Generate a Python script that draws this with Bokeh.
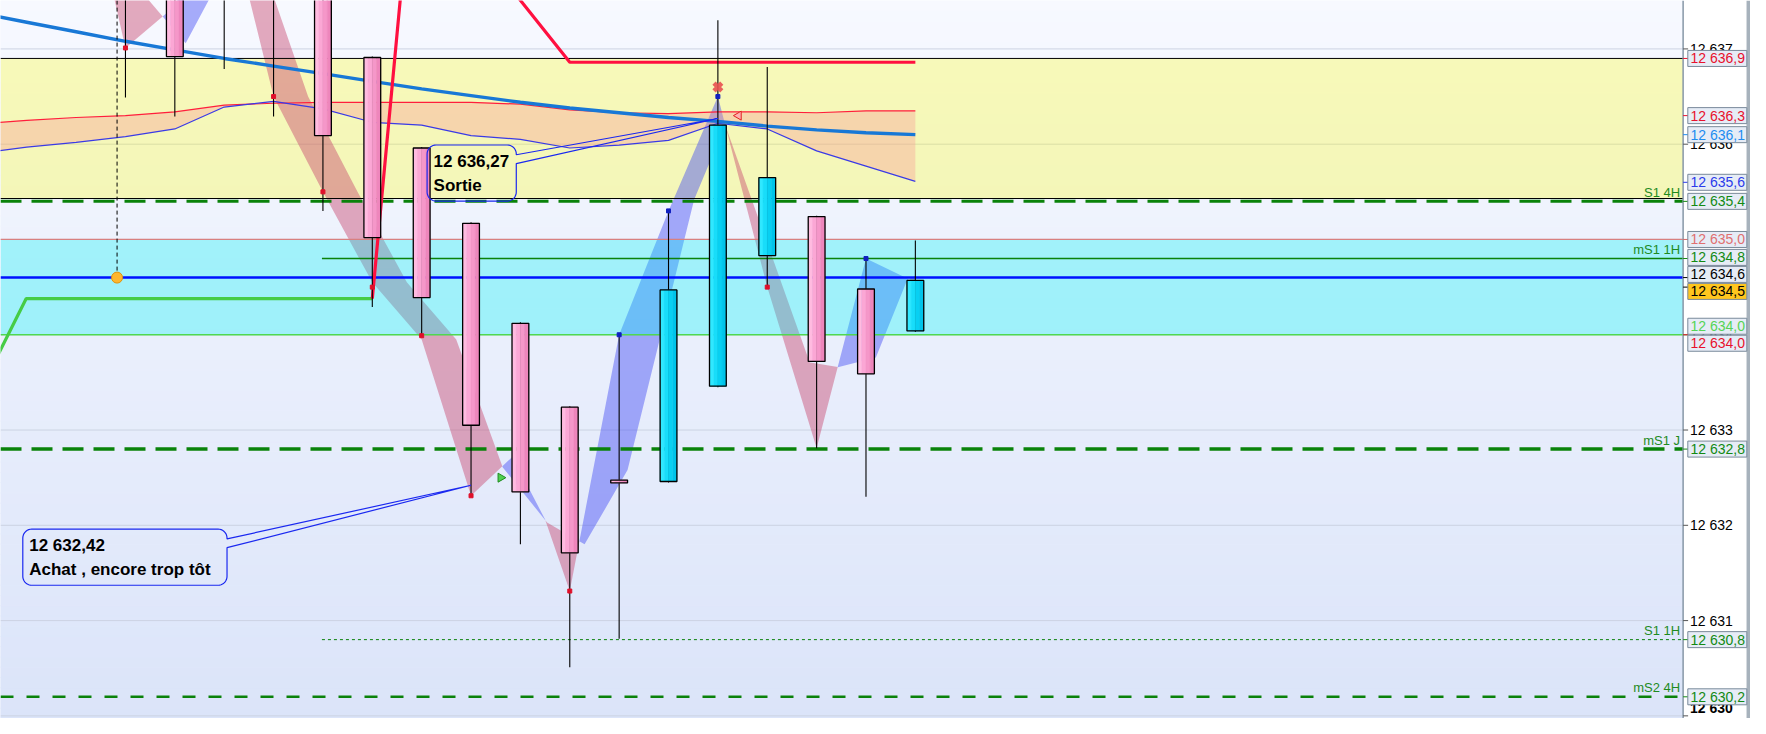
import numpy as np
from bokeh.plotting import figure
from bokeh.models import Range1d, ColumnDataSource
from bokeh.core.properties import value
from bokeh.embed import file_html
from bokeh.resources import INLINE

# ------------------------------------------------------------------ data
bar_index = list(range(17))
open_  = [12638.40, 12638.00, 12638.50, 12638.60, 12637.90, 12636.91, 12635.96, 12635.17, 12634.12,
          12633.24, 12632.475, 12632.46, 12633.46, 12634.83, 12635.24, 12634.48, 12634.04]
high_  = [12638.60, 12638.30, 12638.70, 12638.80, 12638.10, 12636.92, 12635.97, 12635.18, 12634.13,
          12633.25, 12634.00, 12635.30, 12637.30, 12636.81, 12635.25, 12634.80, 12634.99]
low_   = [12636.49, 12636.29, 12636.79, 12636.29, 12635.30, 12634.29, 12633.99, 12632.31, 12631.80,
          12630.51, 12630.81, 12632.45, 12633.45, 12634.50, 12632.81, 12632.30, 12634.03]
close_ = [12637.75, 12636.92, 12637.70, 12637.60, 12636.09, 12635.02, 12634.39, 12633.05, 12632.35,
          12631.71, 12632.445, 12634.47, 12636.20, 12635.65, 12633.72, 12633.59, 12634.57]

ind_index = list(range(-3, 17))
ema_line = [12637.38, 12637.28, 12637.18, 12637.08, 12636.99, 12636.90, 12636.82, 12636.74, 12636.66,
            12636.58, 12636.51, 12636.44, 12636.38, 12636.33, 12636.28, 12636.24, 12636.19, 12636.15,
            12636.12, 12636.10]
env_upper = [12636.21, 12636.25, 12636.28, 12636.30, 12636.34, 12636.41, 12636.43, 12636.44, 12636.44,
             12636.44, 12636.44, 12636.42, 12636.36, 12636.33, 12636.32, 12636.34, 12636.34, 12636.33,
             12636.35, 12636.35]
env_lower = [12635.90, 12635.97, 12636.02, 12636.08, 12636.16, 12636.39, 12636.45, 12636.37, 12636.23,
             12636.20, 12636.09, 12636.05, 12635.96, 12635.99, 12636.04, 12636.22, 12636.16, 12635.93,
             12635.77, 12635.61]

zz_fast_x = [-1, 0, 1, 2, 3, 4, 5, 6, 7, 7.84, 8.5, 9, 10, 11, 12, 13, 14, 15, 16]
zz_fast_y = [12639.30, 12637.01, 12637.45, 12638.60, 12636.50, 12635.50, 12634.55, 12633.95, 12632.31,
             12632.72, 12632.06, 12631.31, 12634.00, 12635.30, 12636.50, 12634.50, 12632.81, 12634.80,
             12634.55]
zz_slow_x = [-1, 1.22, 2.5, 3.7, 4.7, 5.7, 6.7, 7.64, 8.54, 9.3, 10.17, 11.52, 12.15, 13.86, 14.43,
             15.2, 15.83, 16]
zz_slow_y = [12638.40, 12637.06, 12638.30, 12636.50, 12635.50, 12634.55, 12633.95, 12632.61, 12632.03,
             12631.80, 12632.58, 12635.42, 12636.20, 12633.71, 12633.66, 12633.76, 12634.57, 12634.62]

stop_long_x = [-2.6, -2.01, 5.0]
stop_long_y = [12633.77, 12634.38, 12634.38]
stop_short_x = [5.0, 5.7, 7.4, 9.0, 16.0]
stop_short_y = [12634.38, 12638.26, 12637.90, 12636.86, 12636.86]

pivot_down_bar = [0, 3, 4, 5, 6, 7, 9, 13]
pivot_down_val = [12637.01, 12636.50, 12635.50, 12634.50, 12633.99, 12632.31, 12631.31, 12634.50]
pivot_up_bar = [10, 11, 12, 15]
pivot_up_val = [12634.00, 12635.30, 12636.50, 12634.80]

zone_yellow = [12635.43, 12636.90]
zone_cyan = [12634.00, 12635.00]

level_names = ["S1 4H", "mS1 1H", "mS1 J", "S1 1H", "mS2 4H"]
level_values = [12635.40, 12634.80, 12632.80, 12630.80, 12630.20]
level_from_bar = [None, 3.98, None, 3.98, None]

pivot_line = 12634.60
entry_bar, entry_price = -0.17, 12634.60

callout_bar = [7, 12]
callout_price = [12632.42, 12636.27]
callout_note = ["Achat , encore trop tôt", "Sortie"]
buy_arrow = (7.6, 12632.50)
sell_arrow = (12.42, 12636.30)
exit_cross = (12, 12636.60)

axis_ticks = [12630, 12631, 12632, 12633, 12634, 12635, 12636, 12637]
price_tags = [12636.9, 12636.3, 12636.1, 12635.6, 12635.4, 12635.0, 12634.8, 12634.6, 12634.5,
              12634.0, 12634.0, 12632.8, 12630.8, 12630.2]
tag_colors = ["#E8112D", "#E8112D", "#1E8CF0", "#2B3BEA", "#138A13", "#E07070", "#138A13", "#000000",
              "#000000", "#55D455", "#E8112D", "#138A13", "#138A13", "#138A13"]
tag_fills = ["#E6ECF6"] * 8 + ["#FFC61E"] + ["#E6ECF6"] * 5

# ------------------------------------------------------------------ geometry
W, H = 1750, 718
REF_W, REF_H = 1766, 734
BAR0_PX, BAR_PX = 126.1, 49.82
V0, V0_PX, UNIT_PX = 12637.0, 49.5, 97.4


def rx(px):
    return (px - BAR0_PX) / BAR_PX


def ry(py):
    return V0 - (py - V0_PX) / UNIT_PX


X0, X1 = rx(0), rx(REF_W)
Y0, Y1 = ry(REF_H), ry(0)
AXIS_X = rx(1698)
kx = (X1 - X0) / W
ky = (Y1 - Y0) / H
FONT = value("Liberation Sans")


def fmt(v, d):
    return f"{v:,.{d}f}".replace(",", " ").replace(".", ",")


def hexc(c):
    return "#%02X%02X%02X" % tuple(int(round(t)) for t in c)


p = figure(width=W, height=H, x_range=Range1d(X0, X1), y_range=Range1d(Y0, Y1),
           x_axis_type=None, y_axis_type=None, toolbar_location=None, output_backend="svg",
           min_border=0, outline_line_color=None, background_fill_color="white",
           border_fill_color="white")

# background gradient
n = 70
edges = np.linspace(Y0, Y1, n + 1)
top_c, bot_c = np.array([247, 249, 255]), np.array([219, 228, 249])
cols = []
for k in range(n):
    f = (k + 0.5) / n
    cols.append(hexc(bot_c + f * (top_c - bot_c)))
p.quad(left=X0, right=AXIS_X, bottom=edges[:-1], top=edges[1:], fill_color=cols, line_color=cols,
       line_width=1)

# grid
p.segment(x0=[X0] * len(axis_ticks), y0=axis_ticks, x1=[AXIS_X] * len(axis_ticks), y1=axis_ticks,
          line_color="#CCD3E3", line_width=1)

# yellow zone
p.quad(left=X0, right=AXIS_X, bottom=zone_yellow[0], top=zone_yellow[1], fill_color="#FFFF00",
       fill_alpha=0.27, line_color=None)

# zigzag band
xa, ya, xb, yb = map(np.array, (zz_fast_x, zz_fast_y, zz_slow_x, zz_slow_y))
xs = np.union1d(xa, xb)
xs = xs[(xs >= max(xa[0], xb[0])) & (xs <= min(xa[-1], xb[-1]))]
a = np.interp(xs, xa, ya)
b = np.interp(xs, xb, yb)
PX, PA, PB = [xs[0]], [a[0]], [b[0]]
for k in range(1, len(xs)):
    d0, d1 = a[k - 1] - b[k - 1], a[k] - b[k]
    if d0 * d1 < 0:
        t = d0 / (d0 - d1)
        xc = xs[k - 1] + t * (xs[k] - xs[k - 1])
        yc = a[k - 1] + t * (a[k] - a[k - 1])
        PX.append(xc); PA.append(yc); PB.append(yc)
    PX.append(xs[k]); PA.append(a[k]); PB.append(b[k])
segs = []
for k in range(1, len(PX)):
    s = np.sign((PA[k - 1] + PA[k]) - (PB[k - 1] + PB[k]))
    segs.append(s)
poly_x, poly_y, poly_c = [], [], []
k = 0
while k < len(segs):
    j = k
    while j + 1 < len(segs) and segs[j + 1] == segs[k]:
        j += 1
    i0, i1 = k, j + 1
    px_ = list(PX[i0:i1 + 1]) + list(PX[i0:i1 + 1])[::-1]
    py_ = list(PA[i0:i1 + 1]) + list(PB[i0:i1 + 1])[::-1]
    poly_x.append(px_); poly_y.append(py_)
    poly_c.append("#C8466E" if segs[k] < 0 else "#434BF3")
    k = j + 1
p.patches(xs=poly_x, ys=poly_y, fill_color=poly_c, fill_alpha=0.45, line_color=None)

# cyan zone
p.quad(left=X0, right=AXIS_X, bottom=zone_cyan[0], top=zone_cyan[1], fill_color="#00F4F5",
       fill_alpha=0.32, line_color=None)

# envelope band
p.varea(x=ind_index, y1=env_upper, y2=env_lower, fill_color="#FA9696", fill_alpha=0.35)

# zone borders
p.segment(x0=[X0, X0], y0=zone_yellow, x1=[AXIS_X, AXIS_X], y1=zone_yellow, line_color="black",
          line_width=1)
p.segment(x0=[X0], y0=[zone_cyan[1]], x1=[AXIS_X], y1=[zone_cyan[1]], line_color="#D88080", line_width=1.2)
p.segment(x0=[X0], y0=[zone_cyan[0]], x1=[AXIS_X], y1=[zone_cyan[0]], line_color="#50D850", line_width=1.5)

# levels
level_styles = [(3.0, "21 10"), (1.5, None), (3.5, "21 10"), (1.0, "3 3"), (2.5, "13 13")]
for name, v, fb, st in zip(level_names, level_values, level_from_bar, level_styles):
    x_start = X0 if fb is None else fb
    kw = dict(line_color="#0A820A", line_width=st[0])
    if st[1]:
        kw["line_dash"] = st[1]
    p.line([x_start, AXIS_X], [v, v], **kw)
p.text(x=[AXIS_X - 3 * kx] * len(level_names), y=[v + 1.5 * ky for v in level_values], text=level_names,
       text_font=FONT, text_font_size="13px", text_color="#1E8B1E", text_align="right",
       text_baseline="bottom")

# pivot line
p.line([X0, AXIS_X], [pivot_line, pivot_line], line_color="#0010FF", line_width=2.5)

# indicators
p.line(ind_index, env_upper, line_color="#FF1E3C", line_width=1.2)
p.line(ind_index, env_lower, line_color="#3A3AE6", line_width=1.2)
p.line(ind_index, ema_line, line_color="#1878D6", line_width=3.4)
p.line(stop_long_x, stop_long_y, line_color="#46CC46", line_width=3.2)
p.line(stop_short_x, stop_short_y, line_color="#FF1040", line_width=3.2)

# entry marker
p.segment(x0=[entry_bar], y0=[entry_price], x1=[entry_bar], y1=[Y1 + 1], line_color="black",
          line_width=1, line_dash="4 3")
p.scatter([entry_bar], [entry_price], size=11, fill_color="#FFB62E", line_color="#E0920E")

# candles
p.segment(x0=bar_index, y0=low_, x1=bar_index, y1=high_, line_color="black", line_width=1.1)
BW = 0.34
NS = 4
pink_cols = ["#FFBBE0", "#FBA7D5", "#F597C9", "#EE86BC"]
cyan_cols = ["#30E8FF", "#18DDFA", "#08D0F2", "#00C4EA"]
ql, qr, qt, qb, qc = [], [], [], [], []
for i, o, c in zip(bar_index, open_, close_):
    top, bot = max(o, c), min(o, c)
    pal = cyan_cols if c > o else pink_cols
    for s in range(NS):
        l = i - BW / 2 + s * BW / NS
        ql.append(l); qr.append(l + BW / NS); qt.append(top); qb.append(bot); qc.append(pal[s])
p.quad(left=ql, right=qr, top=qt, bottom=qb, fill_color=qc, line_color=qc, line_width=0.5)
p.quad(left=[i - BW / 2 for i in bar_index], right=[i + BW / 2 for i in bar_index],
       top=[max(o, c) for o, c in zip(open_, close_)], bottom=[min(o, c) for o, c in zip(open_, close_)],
       fill_alpha=0, line_color="black", line_width=1.3)

# pivot markers
p.scatter(pivot_down_bar, pivot_down_val, marker="square", size=4, fill_color="#E0102A", line_color="#E0102A")
p.scatter(pivot_up_bar, pivot_up_val, marker="square", size=4, fill_color="#1020C0", line_color="#1020C0")
p.scatter([exit_cross[0]], [exit_cross[1]], marker="x", size=11, line_width=4.5, line_color="#E85050",
          line_alpha=0.9)
p.scatter([buy_arrow[0]], [buy_arrow[1]], marker="triangle", angle=-np.pi / 2, size=9,
          fill_color="#50D050", line_color="#1E8B1E")
p.scatter([sell_arrow[0]], [sell_arrow[1]], marker="triangle", angle=np.pi / 2, size=9,
          fill_color="#FFB0B0", line_color="#E02020")

# callouts (box layout in reference pixels: left, top, right, bottom)
callout_boxes = [(22.5, 540.4, 228.6, 597.8), (430.5, 147.7, 520.5, 205.0)]
R_PX = 9
for bar, price, note, (l_, t_, r_, b_) in zip(callout_bar, callout_price, callout_note, callout_boxes):
    L, R, T, B = rx(l_), rx(r_), ry(t_), ry(b_)
    y1, y2 = ry(t_ + 10), ry(t_ + 19)
    rxd, ryd = R_PX * kx, R_PX * ky
    path_x, path_y = [bar, R, R], [price, y1, T - ryd]
    for cx, cy, a0, a1 in [(R - rxd, T - ryd, 0, 90), (L + rxd, T - ryd, 90, 180),
                           (L + rxd, B + ryd, 180, 270), (R - rxd, B + ryd, 270, 360)]:
        for ang in np.linspace(np.radians(a0), np.radians(a1), 10):
            path_x.append(cx + rxd * np.cos(ang)); path_y.append(cy + ryd * np.sin(ang))
    path_x += [R, R, bar]
    path_y += [B + ryd, y2, price]
    p.line(path_x, path_y, line_color="#1A28F0", line_width=1.2)
    p.text(x=[rx(l_ + 6.5)] * 2, y=[ry(t_ + 17), ry(t_ + 41)], text=[fmt(price, 2), note],
           text_font=FONT, text_font_size="17px", text_font_style="bold", text_color="black",
           text_baseline="middle", text_align="left")

# right price panel
p.quad(left=AXIS_X, right=X1, bottom=Y0, top=Y1, fill_color="white", line_color=None)
p.quad(left=rx(1762), right=X1, bottom=Y0, top=Y1, fill_color="#A7B2BC", line_color=None)
p.segment(x0=[AXIS_X], y0=[Y0], x1=[AXIS_X], y1=[Y1], line_color="#8797A7", line_width=1.5)
p.segment(x0=[AXIS_X] * len(axis_ticks), y0=axis_ticks, x1=[AXIS_X + 5 * kx] * len(axis_ticks),
          y1=axis_ticks, line_color="#555555", line_width=1)
p.text(x=[rx(1705)] * (len(axis_ticks) - 1), y=axis_ticks[1:], text=[fmt(v, 0) for v in axis_ticks[1:]],
       text_font=FONT, text_font_size="14px", text_color="black", text_baseline="middle")
# lowest tick label kept fully inside the frame
p.text(x=[rx(1705)], y=[max(axis_ticks[0], Y0 + 1.5 * ky)], text=[fmt(axis_ticks[0], 0)], text_font=FONT,
       text_font_size="14px", text_font_style="bold", text_color="black", text_baseline="bottom")


def place(values, h_px=17.0):
    order = sorted(range(len(values)), key=lambda k: -values[k])
    want = [(Y1 - values[k]) / ky for k in order]
    clusters = [[j] for j in range(len(order))]

    def positions(cl):
        c = np.mean([want[j] for j in cl])
        m = len(cl)
        return [c + (q - (m - 1) / 2) * h_px for q in range(m)]

    changed = True
    while changed:
        changed = False
        for a_ in range(len(clusters) - 1):
            pa, pb = positions(clusters[a_]), positions(clusters[a_ + 1])
            if pa[-1] + h_px > pb[0] + 1e-9:
                clusters[a_] = clusters[a_] + clusters[a_ + 1]
                del clusters[a_ + 1]
                changed = True
                break
    out = [0.0] * len(values)
    for cl in clusters:
        for j, pos in zip(cl, positions(cl)):
            out[order[j]] = Y1 - pos * ky
    return out


tag_y = place(price_tags)
p.segment(x0=[AXIS_X] * len(price_tags), y0=price_tags, x1=[AXIS_X + 5 * kx] * len(price_tags),
          y1=price_tags, line_color=tag_colors, line_width=1)
p.rect(x=[rx(1732.5)] * len(price_tags), y=tag_y, width=59, height=16, width_units="screen",
       height_units="screen", fill_color=tag_fills, line_color="#7A8A9A", line_width=1)
p.text(x=[rx(1705.5)] * len(price_tags), y=tag_y, text=[fmt(v, 1) for v in price_tags], text_font=FONT,
       text_font_size="14px", text_color=tag_colors, text_baseline="middle", text_align="left")

open("out.html", "w").write(file_html(p, INLINE))
